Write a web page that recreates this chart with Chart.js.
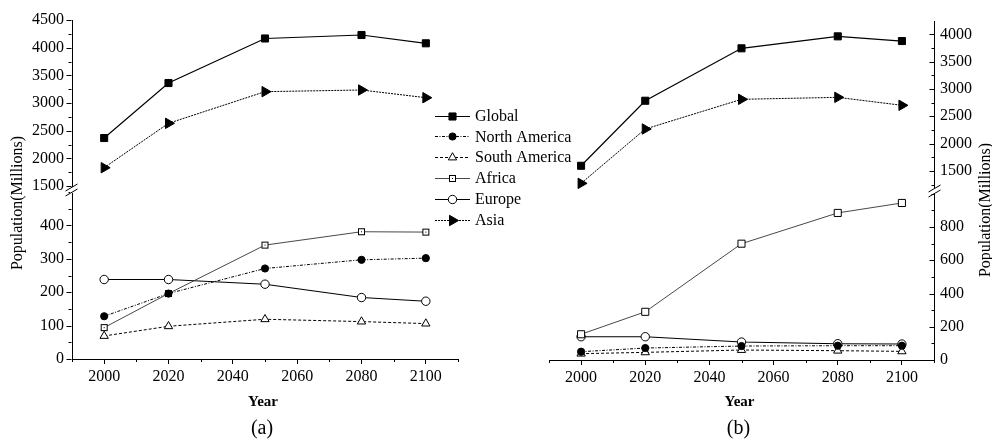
<!DOCTYPE html>
<html>
<head>
<meta charset="utf-8">
<script src="https://cdn.jsdelivr.net/npm/chart.js@4/dist/chart.umd.min.js"></script>
<style>
  body { margin: 0; background: #fff; width: 992px; height: 442px; position: relative; overflow: hidden; }
  canvas { position: absolute; top: 0; }
  #chartA { left: 0; }
  #chartB { left: 496px; }
</style>
</head>
<body>
<canvas id="chartA" width="620" height="442"></canvas>
<canvas id="chartB" width="496" height="442"></canvas>
<script>
const FONT = '"Liberation Serif", "Times New Roman", serif';

const years = [2000, 2020, 2050, 2080, 2100];
const yearTicks = [2000, 2020, 2040, 2060, 2080, 2100];
const seriesNames = ['Global', 'North America', 'South America', 'Africa', 'Europe', 'Asia'];
const upperSeries = ['Global', 'Asia'];

// panel (a)
const globalA = [2367, 3361, 4166, 4229, 4079];
const northAmericaA = [128, 196, 271, 297, 302];
const southAmericaA = [69, 98, 119, 112, 106];
const africaA = [94, 196, 341, 381, 380];
const europeA = [238, 238, 224, 184, 173];
const asiaA = [1831, 2633, 3205, 3235, 3096];
const upperTicksA = [1500, 2000, 2500, 3000, 3500, 4000, 4500];
const lowerTicksA = [0, 100, 200, 300, 400];

// panel (b)
const globalB = [1593, 2784, 3744, 3963, 3877];
const northAmericaB = [50, 72, 84, 86, 86];
const southAmericaB = [38, 46, 60, 56, 52];
const africaB = [155, 290, 700, 885, 945];
const europeB = [140, 140, 108, 98, 96];
const asiaB = [1271, 2266, 2810, 2846, 2700];
const upperTicksB = [1500, 2000, 2500, 3000, 3500, 4000];
const lowerTicksB = [0, 200, 400, 600, 800];

// open square with a dot, used for Africa in (a)
const squareDot = (() => {
  const c = document.createElement('canvas');
  c.width = 9; c.height = 9;
  const g = c.getContext('2d');
  g.fillStyle = '#fff'; g.fillRect(1, 1, 7, 7);
  g.strokeStyle = '#000'; g.lineWidth = 1; g.strokeRect(1.5, 1.5, 6, 6);
  g.fillStyle = '#000'; g.fillRect(4, 4, 1, 1);
  return c;
})();

const lineStyles = {
  'Global':        { color: '#000', width: 1.2, dash: [],             point: 'rect',     radius: 5,   fill: '#000', rot: 0 },
  'North America': { color: '#000', width: 1,   dash: [3, 1.5, 1, 1.5], point: 'circle', radius: 3.6, fill: '#000', rot: 0 },
  'South America': { color: '#000', width: 1,   dash: [3, 2],         point: 'triangle', radius: 4.8, fill: '#fff', rot: 0 },
  'Africa':        { color: '#333', width: 0.9, dash: [],             point: 'rect',     radius: 5,   fill: '#fff', rot: 0 },
  'Europe':        { color: '#000', width: 1.1, dash: [],             point: 'circle',   radius: 4.2, fill: '#fff', rot: 0 },
  'Asia':          { color: '#000', width: 1,   dash: [2, 1],         point: 'triangle', radius: 6,   fill: '#000', rot: 90 }
};

function makeDatasets(values, africaPoint) {
  return seriesNames.map((name, i) => {
    const s = lineStyles[name];
    return {
      label: name,
      data: years.map((x, j) => ({ x: x, y: values[i][j] })),
      yAxisID: upperSeries.includes(name) ? 'yHi' : 'yLo',
      borderColor: s.color,
      borderWidth: s.width,
      borderDash: s.dash,
      tension: 0,
      fill: false,
      pointStyle: name === 'Africa' && africaPoint ? africaPoint : s.point,
      pointRadius: s.radius,
      pointRotation: s.rot,
      pointBackgroundColor: s.fill,
      pointBorderColor: '#000',
      pointBorderWidth: 1
    };
  });
}

function hline(ctx, x1, x2, y) {
  ctx.beginPath(); ctx.moveTo(x1, y); ctx.lineTo(x2, y); ctx.stroke();
}

function drawLegend(chart) {
  const ctx = chart.ctx;
  chart.data.datasets.forEach((ds, i) => {
    const y = 115.5 + i * 20.8;
    ctx.save();
    ctx.strokeStyle = ds.borderColor;
    ctx.lineWidth = ds.borderWidth;
    ctx.setLineDash(ds.borderDash || []);
    hline(ctx, 435, 470, Math.round(y) + 0.5);
    ctx.setLineDash([]);
    ctx.fillStyle = ds.pointBackgroundColor;
    ctx.strokeStyle = ds.pointBorderColor;
    ctx.lineWidth = ds.pointBorderWidth;
    Chart.helpers.drawPoint(ctx, {
      pointStyle: ds.pointStyle, rotation: ds.pointRotation || 0,
      radius: ds.pointRadius, borderWidth: ds.pointBorderWidth
    }, 452.5, Math.round(y) + 0.5);
    ctx.fillStyle = '#000';
    ctx.font = '16px ' + FONT;
    ctx.textAlign = 'left';
    ctx.textBaseline = 'middle';
    ctx.fillText(ds.label, 475, y + 1);
    ctx.restore();
  });
}

function makePanel(id, p) {
  const tickFont = { family: FONT, size: 16 };
  const yScale = (min, max, ticks, weight) => ({
    type: 'linear', position: p.side, stack: 'pop', stackWeight: weight,
    min: min, max: max,
    afterBuildTicks: s => { s.ticks = ticks.map(v => ({ value: v })); },
    border: { color: '#000', width: 1 },
    grid: { drawOnChartArea: false, drawTicks: false },
    ticks: { font: tickFont, color: '#000', padding: p.labelPad, autoSkip: false, callback: v => String(v) },
    afterFit: s => { s.width = p.yWidth; }
  });

  const extras = {
    id: 'extras',
    afterDraw(chart) {
      const ctx = chart.ctx;
      const xs = chart.scales.x, hi = chart.scales.yHi, lo = chart.scales.yLo;
      const ax = p.side === 'left' ? hi.right : hi.left;
      const axp = Math.round(ax) + 0.5 - (p.side === 'left' ? 1 : 0);
      ctx.save();
      ctx.strokeStyle = '#000';
      ctx.lineWidth = 1;

      // x minor ticks
      for (let v = xs.min; v <= xs.max; v += p.xMinor) {
        if (yearTicks.includes(v)) continue;
        const px = Math.round(xs.getPixelForValue(v)) + 0.5;
        ctx.beginPath(); ctx.moveTo(px, xs.top); ctx.lineTo(px, xs.top + 3); ctx.stroke();
      }

      // y ticks (all drawn toward the left of the axis)
      [[hi, p.upperTicks, p.upperMinor], [lo, p.lowerTicks, p.lowerMinor]].forEach(([sc, majors, step]) => {
        for (let v = Math.ceil(sc.min / step) * step; v <= sc.max; v += step) {
          const py = Math.round(sc.getPixelForValue(v)) + 0.5;
          const len = majors.includes(v) ? 5 : 3;
          hline(ctx, axp - len, axp, py);
        }
      });

      // axis break
      const by = Math.min(hi.bottom, lo.bottom);
      ctx.fillStyle = '#fff';
      ctx.fillRect(axp - 1.5, by - 3, 3, 6);
      [-2.5, 2.5].forEach(d => {
        ctx.beginPath();
        ctx.moveTo(axp - 6, by + d + 3.5);
        ctx.lineTo(axp + 6, by + d - 3.5);
        ctx.stroke();
      });

      // titles
      ctx.fillStyle = '#000';
      ctx.textAlign = 'center';
      ctx.textBaseline = 'middle';
      ctx.save();
      ctx.translate(p.yTitleX, p.yTitleY);
      ctx.rotate(-Math.PI / 2);
      ctx.font = '16px ' + FONT;
      ctx.fillText('Population(Millions)', 0, 0);
      ctx.restore();
      const cx = (chart.chartArea.left + chart.chartArea.right) / 2;
      ctx.font = 'bold 15px ' + FONT;
      ctx.fillText('Year', cx - 2, 402);
      ctx.font = '20px ' + FONT;
      ctx.fillText(p.tag, cx - 3, 429);
      ctx.restore();

      if (p.legend) drawLegend(chart);
    }
  };

  const scales = {
    x: {
      type: 'linear', min: 1990, max: 2110,
      afterBuildTicks: s => { s.ticks = yearTicks.map(v => ({ value: v })); },
      border: { color: '#000', width: 1 },
      grid: { drawOnChartArea: false, tickLength: 5, tickColor: '#000', tickWidth: 1 },
      ticks: { font: tickFont, color: '#000', padding: 3, maxRotation: 0, autoSkip: false, callback: v => String(v) },
      afterFit: s => { s.height = 30; }
    }
  };
  const hiScale = yScale(p.upperMin, p.upperMax, p.upperTicks, 170);
  const loScale = yScale(0, p.lowerMax, p.lowerTicks, 169);
  // left-side stacks are placed in reverse order, right-side in order
  if (p.side === 'left') {
    scales.yLo = loScale;
    scales.yHi = hiScale;
  } else {
    scales.yHi = hiScale;
    scales.yLo = loScale;
  }

  return new Chart(document.getElementById(id), {
    type: 'line',
    data: { datasets: p.datasets },
    options: {
      responsive: false,
      animation: false,
      events: [],
      layout: { padding: p.padding },
      plugins: { legend: { display: false }, tooltip: { enabled: false }, title: { display: false } },
      scales: scales
    },
    plugins: [extras]
  });
}

makePanel('chartA', {
  side: 'left', tag: '(a)', legend: true,
  datasets: makeDatasets([globalA, northAmericaA, southAmericaA, africaA, europeA, asiaA], squareDot),
  padding: { left: 0, right: 162, top: 20, bottom: 53 },
  yWidth: 72, labelPad: 8,
  upperMin: 1428, upperMax: 4500, upperTicks: upperTicksA, upperMinor: 250,
  lowerMax: 506, lowerTicks: lowerTicksA, lowerMinor: 50,
  xMinor: 10,
  yTitleX: 18, yTitleY: 203
});

makePanel('chartB', {
  side: 'right', tag: '(b)', legend: false,
  datasets: makeDatasets([globalB, northAmericaB, southAmericaB, africaB, europeB, asiaB], null),
  padding: { left: 53, right: 0, top: 21, bottom: 52 },
  yWidth: 58, labelPad: 6,
  upperMin: 1131, upperMax: 4244, upperTicks: upperTicksB, upperMinor: 250,
  lowerMax: 1017, lowerTicks: lowerTicksB, lowerMinor: 100,
  xMinor: 10,
  yTitleX: 490, yTitleY: 210
});
</script>
</body>
</html>
